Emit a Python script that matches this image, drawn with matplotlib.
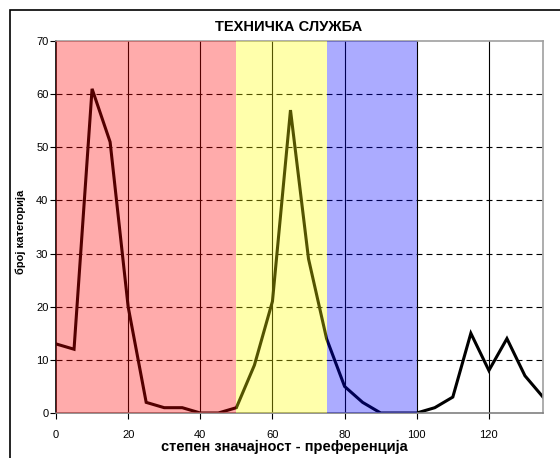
import matplotlib.pyplot as plt
from matplotlib.patches import Rectangle

plt.rcParams['font.family'] = ['Liberation Sans', 'DejaVu Sans']
plt.rcParams['lines.scale_dashes'] = False

# степен значајности (x) и број категорија (y)
x_vals = [0, 5, 10, 15, 20, 25, 30, 35, 40, 45, 50, 55, 60, 65,
          70, 75, 80, 85, 90, 95, 100, 105, 110, 115, 120, 125, 130, 135]
counts = [13, 12, 61, 51, 20, 2, 1, 1, 0, 0, 1, 9, 21, 57,
          29, 14, 5, 2, 0, 0, 0, 1, 3, 15, 8, 14, 7, 3]

# zones drawn as translucent overlays
zones = [(0, 50, 'red'), (50, 75, 'yellow'), (75, 100, 'blue')]

x_ticks = [0, 20, 40, 60, 80, 100, 120]
y_ticks = [0, 10, 20, 30, 40, 50, 60, 70]

title = 'ТЕХНИЧКА СЛУЖБА'
x_label = 'степен значајност - преференција'
y_label = 'број категорија'


def plot_chart():
    fig = plt.figure(figsize=(5.6, 4.58), dpi=100)
    ax = fig.add_axes([56 / 560, 45 / 458, 487 / 560, 372 / 458])

    ax.plot(x_vals, counts, color='black', linewidth=2.2, zorder=2,
            solid_joinstyle='miter')

    for x0, x1, c in zones:
        ax.axvspan(x0, x1, color=c, alpha=0.33, linewidth=0, zorder=3)

    ax.set_xlim(0, 135)
    ax.set_ylim(0, 70)
    ax.set_xticks(x_ticks)
    ax.set_yticks(y_ticks)

    for xv in x_ticks[1:]:
        ax.axvline(xv, color='black', linewidth=0.8, zorder=1.5)
    for yv in y_ticks[1:-1]:
        ax.axhline(yv, color='black', linewidth=0.8, zorder=1.5,
                   linestyle=(0, (4.3, 2.9)))

    ax.spines['left'].set_color('black')
    ax.spines['bottom'].set_color('#808080')
    ax.spines['top'].set_color('#a0a0a0')
    ax.spines['right'].set_color('#a0a0a0')
    for s in ax.spines.values():
        s.set_linewidth(1.2)

    ax.tick_params(axis='x', direction='out', length=4, width=0.8,
                   pad=8, labelsize=8)
    ax.tick_params(axis='y', direction='out', length=4, width=0.8,
                   pad=1.5, labelsize=8)

    fig.text(289 / 560, 1 - 27 / 458, title, ha='center', va='center',
             fontsize=10.5, fontweight='bold')
    fig.text(284 / 560, 1 - 451 / 458, x_label, ha='center', va='baseline',
             fontsize=10.5, fontweight='bold')
    fig.text(21 / 560, 1 - 232 / 458, y_label, ha='center', va='center',
             rotation=90, fontsize=8, fontweight='bold')

    # outer chart-area border
    fig.patches.append(Rectangle((10 / 560, -0.1), 1.0, 1.1 - 10 / 458,
                                 transform=fig.transFigure, fill=False,
                                 edgecolor='black', linewidth=1.2))

    fig.savefig('out.png', dpi=100)


if __name__ == "__main__":
    plot_chart()
